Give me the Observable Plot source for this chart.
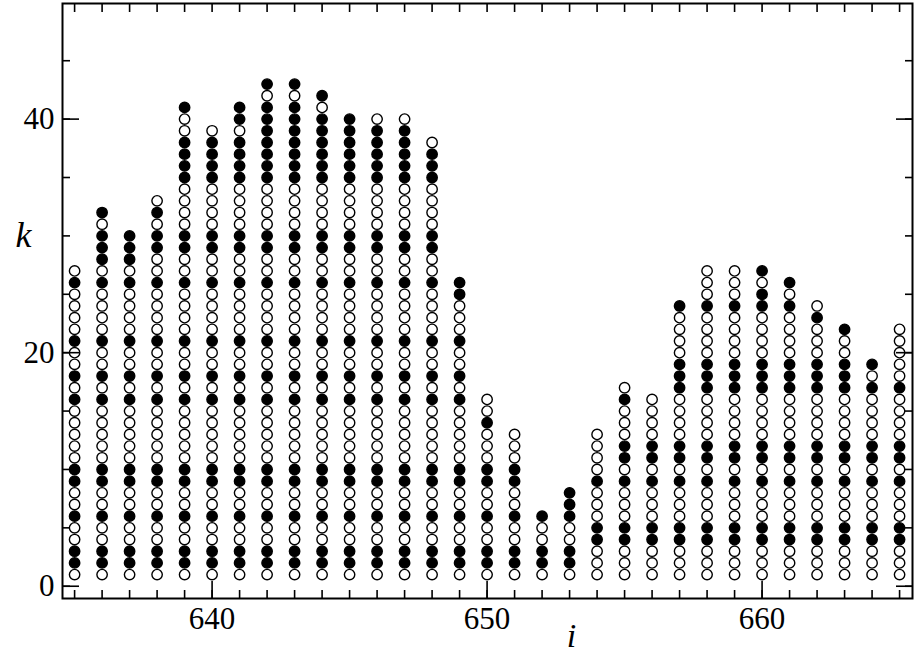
<!DOCTYPE html>
<html>
<head>
<meta charset="utf-8">
<script src="https://cdn.jsdelivr.net/npm/d3@7"></script>
<script src="https://cdn.jsdelivr.net/npm/@observablehq/plot@0.6"></script>
<style>
  html, body { margin: 0; padding: 0; background: #fff; }
  #chart svg { display: block; }
  #chart svg text { font-family: "Liberation Serif", "Times New Roman", serif; }
</style>
</head>
<body>
<div id="chart"></div>
<script>
// column index i
const columns = [635,636,637,638,639,640,641,642,643,644,645,646,647,648,649,650,651,652,653,654,655,656,657,658,659,660,661,662,663,664,665];
// highest k drawn in each column
const topK = [27,32,30,33,41,39,41,43,43,42,40,40,40,38,26,16,13,6,8,13,17,16,24,27,27,27,26,24,22,19,22];
// k values drawn as filled circles in each column (others are open)
const filledK = [
  [2,3,6,9,10,16,18,21,26],
  [2,3,6,9,10,16,18,21,26,28,29,30,32],
  [2,3,6,9,10,16,18,21,26,28,29,30],
  [2,3,6,9,10,16,18,21,26,29,30,32],
  [2,3,6,9,10,16,18,21,26,29,30,35,36,37,38,41],
  [2,3,6,9,10,16,18,21,26,29,30,35,36,37,38],
  [2,3,6,9,10,16,18,21,26,29,30,35,36,37,38,40,41],
  [2,3,6,9,10,16,18,21,26,29,30,35,36,37,38,39,40,41,43],
  [2,3,6,9,10,16,18,21,26,29,30,35,36,37,38,39,40,41,43],
  [2,3,6,9,10,16,18,21,26,29,30,35,36,37,38,39,40,42],
  [2,3,6,9,10,16,18,21,26,29,30,35,36,37,38,39,40],
  [2,3,6,9,10,16,18,21,26,29,30,35,36,37,38,39],
  [2,3,6,9,10,16,18,21,26,29,30,35,36,37,38,39],
  [2,3,6,9,10,16,18,21,26,29,30,35,36,37],
  [2,3,6,9,10,16,18,21,25,26],
  [2,3,6,9,10,14],
  [2,3,6,9,10],
  [2,3,6],
  [2,3,6,7,8],
  [4,5,9],
  [4,5,9,11,12,16],
  [4,5,9,11,12],
  [4,5,9,11,12,17,18,19,24],
  [4,5,9,11,12,17,18,19,24],
  [4,5,9,11,12,17,18,19,24],
  [4,5,9,11,12,17,18,19,24,25,27],
  [4,5,9,11,12,17,18,19,24,26],
  [4,5,9,11,12,17,18,19,23],
  [4,5,9,11,12,17,18,19,22],
  [4,5,9,11,12,17,19],
  [4,5,9,11,12,17]
];
const xTickLabels = [640, 650, 660];
const xMinorTicks = [635,636,637,638,639,640,641,642,643,644,645,646,647,648,649,650,651,652,653,654,655,656,657,658,659,660,661,662,663,664,665];
const yTickLabels = [0, 20, 40];
const yMinorTicks = [0,5,10,15,20,25,30,35,40,45];
const xLabel = "i";
const yLabel = "k";

const points = [];
columns.forEach((i, c) => {
  const f = new Set(filledK[c]);
  for (let k = 1; k <= topK[c]; k++) points.push({i, k, filled: f.has(k)});
});

const serif = "Liberation Serif";

const chart = Plot.plot({
  width: 916,
  height: 656,
  marginLeft: 62,
  marginRight: 4,
  marginTop: 3,
  marginBottom: 58,
  style: {fontFamily: serif, fontSize: "31px", background: "#fff", color: "#000", overflow: "visible"},
  x: {domain: [634.56, 665.47]},
  y: {domain: [-1.05, 49.9]},
  marks: [
    Plot.dot(points, {
      x: "i", y: "k", r: 5.2,
      stroke: "black", strokeWidth: 1.4,
      fill: d => d.filled ? "black" : "white"
    }),
    // minor ticks, inward
    Plot.axisX({anchor: "bottom", ticks: xMinorTicks, tickSize: -8, strokeWidth: 1.6, fill: "none", label: null}),
    Plot.axisX({anchor: "top", ticks: xMinorTicks, tickSize: -8, strokeWidth: 1.6, fill: "none", label: null}),
    Plot.axisY({anchor: "left", ticks: yMinorTicks, tickSize: -8, strokeWidth: 1.6, fill: "none", label: null}),
    Plot.axisY({anchor: "right", ticks: yMinorTicks, tickSize: -8, strokeWidth: 1.6, fill: "none", label: null}),
    // major ticks, inward
    Plot.axisX({anchor: "bottom", ticks: xTickLabels, tickSize: -17, strokeWidth: 1.6, fill: "none", label: null}),
    Plot.axisY({anchor: "left", ticks: yTickLabels, tickSize: -17, strokeWidth: 1.6, fill: "none", label: null}),
    Plot.axisY({anchor: "right", ticks: yTickLabels, tickSize: -17, strokeWidth: 1.6, fill: "none", label: null}),
    // tick labels
    Plot.axisX({anchor: "bottom", ticks: xTickLabels, tickSize: 0, tickPadding: 8, fontSize: 31, fontFamily: serif, stroke: "none", label: null, tickFormat: d => String(d)}),
    Plot.axisY({anchor: "left", ticks: yTickLabels, tickSize: 0, tickPadding: 8, fontSize: 31, fontFamily: serif, stroke: "none", label: null, tickFormat: d => String(d)}),
    Plot.frame({stroke: "black", strokeWidth: 2}),
    // axis titles
    Plot.text([xLabel], {frameAnchor: "bottom", text: d => d, dx: 84, dy: 38, fontSize: 34, fontStyle: "italic", fontFamily: serif, lineAnchor: "middle"}),
    Plot.text([yLabel], {frameAnchor: "left", text: d => d, dx: -47, dy: -66, fontSize: 36, fontStyle: "italic", fontFamily: serif, lineAnchor: "middle"})
  ]
});
document.getElementById("chart").appendChild(chart);
</script>
</body>
</html>
